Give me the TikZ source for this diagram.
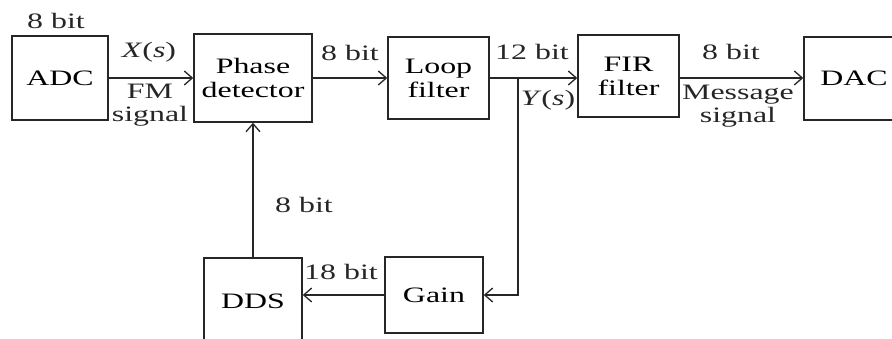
\documentclass[tikz,border=0pt]{standalone}
\usepackage{fontspec}
\setmainfont[FakeStretch=1.45]{Liberation Serif}
\usetikzlibrary{arrows.meta}

\begin{document}
\begin{tikzpicture}[x=1pt,y=-1pt,
  blk/.style={
    draw=black!85, line width=1.5pt, align=center, inner sep=0pt,
    font=\fontsize{22}{24}\selectfont
  },
  lbl/.style={align=center, inner sep=0pt, text=black!85,
    font=\fontsize{22}{23}\selectfont},
  arr/.style={-{Straight Barb[length=8pt,width=14pt,line width=1.3pt]},
    line width=1.5pt, black!85}
]
\clip (0,0) rectangle (892,339);

\node[blk, minimum width=96pt, minimum height=84pt] (adc) at (60,78)
  {ADC};
\node[blk, minimum width=118pt, minimum height=88pt] (pd) at (253,78)
  {Phase\\detector};
\node[blk, minimum width=101pt, minimum height=82pt] (loop) at (438.5,78)
  {Loop\\filter};
\node[blk, minimum width=101pt, minimum height=82pt] (fir) at (628.5,76)
  {FIR\\filter};
\node[blk, minimum width=100pt, minimum height=83pt] (dac) at (854,78.5)
  {DAC};
\node[blk, minimum width=98pt, minimum height=86pt] (dds) at (253,301)
  {DDS};
\node[blk, minimum width=98pt, minimum height=76pt] (gain) at (434,295)
  {Gain};

\coordinate (junc) at (518,78);

\draw[arr] (adc.east) -- (pd.west |- adc.east);
\draw[arr] (pd.east) -- (loop.west);
\draw[arr] (loop.east) -- (fir.west |- loop.east);
\draw[arr] (fir.east |- loop.east) -- (dac.west |- loop.east);
\draw[arr] (junc) |- (gain.east);
\draw[arr] (gain.west) -- (gain.west -| dds.east);
\draw[arr] (dds.north) -- (pd.south);

\node[lbl] (bitadc) at (56,21) {8 bit};
\node[lbl] (xs) at (149,52) {\textit{X}(\textit{s})};
\node[lbl] (fm) at (150,105) {FM\\signal};
\node[lbl] (bitpd) at (350,53) {8 bit};
\node[lbl] (bitloop) at (532,52) {12 bit};
\node[lbl] (ys) at (548,100) {\textit{Y}(\textit{s})};
\node[lbl] (bitfir) at (731,52) {8 bit};
\node[lbl] (msg) at (738,106) {Message\\signal};
\node[lbl] (bitdds) at (304,205) {8 bit};
\node[lbl] (bitgain) at (341,272) {18 bit};

\end{tikzpicture}
\end{document}
